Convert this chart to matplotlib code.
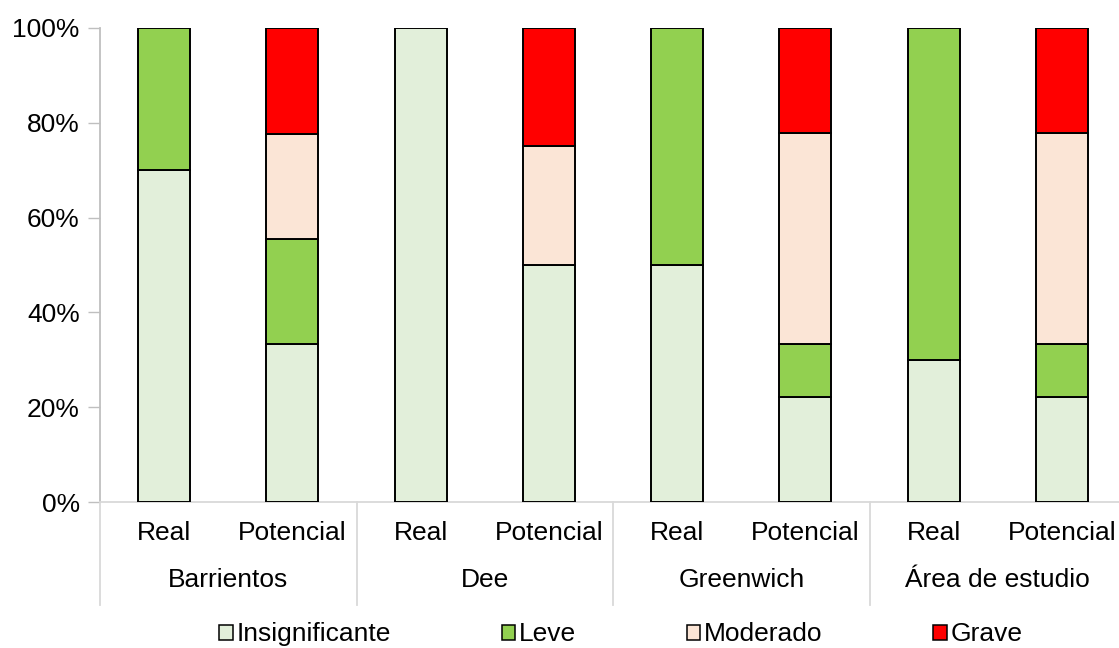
import matplotlib.pyplot as plt
from matplotlib.patches import Patch
from matplotlib.lines import Line2D
from matplotlib.ticker import PercentFormatter
import numpy as np

plt.rcParams['font.family'] = ['Liberation Sans', 'DejaVu Sans']

grupos = ['Barrientos', 'Dee', 'Greenwich', 'Área de estudio']
tipos = ['Real', 'Potencial']
niveles = ['Insignificante', 'Leve', 'Moderado', 'Grave']
colores = ['#E2EFDA', '#92D050', '#FBE5D6', '#FF0000']

# porcentajes por barra (Real, Potencial de cada zona)
insignificante = [70.0, 33.3, 100.0, 50.0, 50.0, 22.2, 30.0, 22.2]
leve = [30.0, 22.2, 0.0, 0.0, 50.0, 11.1, 70.0, 11.1]
moderado = [0.0, 22.2, 0.0, 25.0, 0.0, 44.5, 0.0, 44.5]
grave = [0.0, 22.3, 0.0, 25.0, 0.0, 22.2, 0.0, 22.2]

series = [insignificante, leve, moderado, grave]

fs = 19

fig = plt.figure(figsize=(11.19, 6.48), dpi=100)
ax = fig.add_axes([0.0894, 0.2253, 0.9169, 0.7315])

x = np.arange(len(grupos) * len(tipos))
base = np.zeros(len(x))
for vals, col in zip(series, colores):
    v = np.array(vals)
    mask = v > 0
    ax.bar(x[mask], v[mask], bottom=base[mask], width=0.405, color=col,
           edgecolor='black', linewidth=1.4, zorder=3)
    base += v

ax.set_xlim(-0.5, len(x) - 0.5)
ax.set_ylim(0, 100)
ax.set_yticks(np.arange(0, 101, 20))
ax.yaxis.set_major_formatter(PercentFormatter(decimals=0))
ax.tick_params(axis='y', labelsize=fs, length=8.6, width=1, color='#BFBFBF', pad=6)
ax.tick_params(axis='x', bottom=False, labelbottom=False)
for s in ['top', 'right']:
    ax.spines[s].set_visible(False)
ax.spines['left'].set_color('#BFBFBF')
ax.spines['bottom'].set_color('#D9D9D9')
ax.spines['left'].set_linewidth(1.3)
ax.spines['bottom'].set_linewidth(1.3)

# etiquetas de dos niveles en el eje x
tr = ax.get_xaxis_transform()
for i, xi in enumerate(x):
    ax.text(xi, -0.065, tipos[i % 2], transform=tr, ha='center', va='center', fontsize=fs)
for g, nombre in enumerate(grupos):
    ax.text(2 * g + 0.5, -0.165, nombre, transform=tr, ha='center', va='center', fontsize=fs)
for g in range(len(grupos)):
    ax.add_line(Line2D([2 * g - 0.5, 2 * g - 0.5], [0, -0.217], transform=tr,
                       color='#D9D9D9', linewidth=1.3, clip_on=False))

handles = [Patch(facecolor=c, edgecolor='black', linewidth=1.1) for c in colores]
fig.legend(handles, niveles, loc='center', bbox_to_anchor=(0.555, 0.021), ncol=4,
           frameon=False, fontsize=fs, handlelength=0.5, handleheight=0.5,
           handletextpad=0.15, columnspacing=4.2)

fig.savefig('out.png', dpi=100)
